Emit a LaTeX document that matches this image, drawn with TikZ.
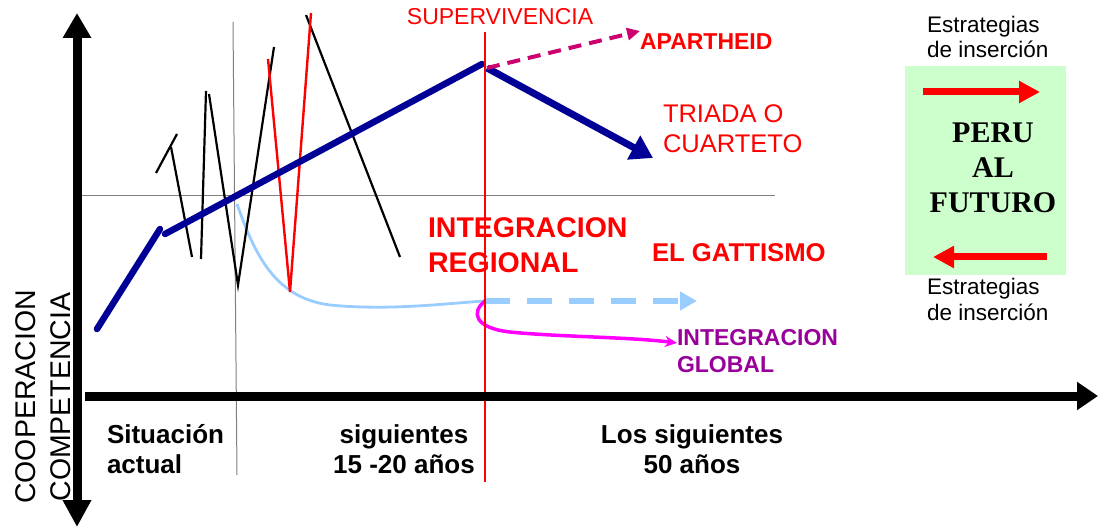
\documentclass[tikz,border=0pt]{standalone}
\usepackage{fontspec}
\setmainfont{Liberation Sans}
\newfontfamily\timesfont{Liberation Serif}
\usetikzlibrary{arrows.meta}
\definecolor{navy}{RGB}{0,0,150}
\definecolor{lblue}{RGB}{153,204,255}
\definecolor{apcol}{RGB}{204,0,110}
\definecolor{purp}{RGB}{153,0,153}
\definecolor{mag}{RGB}{255,0,255}
\definecolor{lgreen}{RGB}{204,255,204}
\definecolor{gline}{RGB}{128,128,128}
\newcommand\fsz[1]{\fontsize{#1}{#1}\selectfont}
\newcommand\bfsz[1]{\fontsize{#1}{#1}\selectfont\bfseries}
\begin{document}
\begin{tikzpicture}[x=1pt,y=-1pt,
  lbl/.style={inner sep=0pt, outer sep=0pt},
  lw/.style={lbl, anchor=base west},
  lc/.style={lbl, anchor=base},
  zig/.style={line width=2.2pt, black},
  zigred/.style={line width=2.4pt, red},
  thin gray/.style={line width=1pt, gline},
  axis/.style={line width=9pt, black}]
\useasboundingbox (0,0) rectangle (1098,529);

% green box
\node[lbl, fill=lgreen, minimum width=161pt, minimum height=209pt, anchor=north west] (box) at (905,66) {};

% coordinates
\coordinate (b1) at (97,329);
\coordinate (b2) at (160,229);
\coordinate (b3) at (165,234);
\coordinate (b4) at (482,64);
\coordinate (b5) at (487,68);
\coordinate (b6) at (653,158);
\coordinate (ap) at (640,31);
\coordinate (gh1) at (76,196);
\coordinate (gh2) at (775,196);
\coordinate (gv1) at (233,22);
\coordinate (gv2) at (237,475);
\coordinate (rv1) at (485,32);
\coordinate (rv2) at (485,482);
\coordinate (lb0) at (237,204);
\coordinate (lb1) at (330,305);
\coordinate (lb2) at (485,301);
\coordinate (lb3) at (697,301);
\coordinate (mg1) at (510,332);
\coordinate (mg2) at (677,343);

% thin reference lines
\draw[thin gray] (gh1) -- (gh2);
\draw[thin gray] (gv1) -- (gv2);

% light blue curve and dashed arrow
\draw[lblue, line width=2.8pt] (lb0) .. controls (255,255) and (275,298) .. (lb1)
   .. controls (390,311) and (450,303) .. (lb2);
\draw[lblue, line width=6.5pt, dash pattern=on 25pt off 17pt,
      -{Triangle[length=17pt,width=18pt]}] (lb2) -- (lb3);

% magenta curve
\draw[mag, line width=3.5pt, -{Stealth[length=12pt,width=11pt]}] (lb2)
   .. controls (471,312) and (474,328) .. (mg1)
   .. controls (560,337) and (630,337) .. (mg2);

% zigzag lines
\coordinate (za1) at (156,173); \coordinate (za2) at (177,134);
\coordinate (zb1) at (171,147); \coordinate (zb2) at (192,257);
\coordinate (zc1) at (201,259); \coordinate (zc2) at (206,91);
\coordinate (zd1) at (209,94);  \coordinate (zd2) at (238,285);
\coordinate (ze2) at (274,47);
\coordinate (zf1) at (306,15);  \coordinate (zf2) at (400,257);
\coordinate (zr1) at (268,59);  \coordinate (zr2) at (290,292); \coordinate (zr3) at (311,13);
\draw[zig] (za1) -- (za2);
\draw[zig] (zb1) -- (zb2);
\draw[zig] (zc1) -- (zc2);
\draw[zig] (zd1) -- (zd2) -- (ze2);
\draw[zig] (zf1) -- (zf2);
\draw[zigred] (zr1) -- (zr2) -- (zr3);

% blue line
\draw[navy, line width=6.5pt, line cap=round] (b1) -- (b2);
\draw[navy, line width=6.5pt, line cap=round] (b3) -- (b4);
\draw[navy, line width=7pt, -{Triangle[length=22pt,width=26pt]}] (b5) -- (b6);

% apartheid dashed arrow
\draw[apcol, line width=4pt, dash pattern=on 13pt off 8pt,
      -{Triangle[length=13pt,width=12pt]}] (b5) -- (ap);

% red vertical line
\draw[red, line width=1.3pt] (rv1) -- (rv2);

% axes
\coordinate (vy1) at (77,13);
\coordinate (vy2) at (77,527);
\coordinate (hx1) at (85,396);
\coordinate (hx2) at (1098,396);
\draw[axis, {Triangle[length=27pt,width=27pt]}-{Triangle[length=25pt,width=27pt]}] (vy2) -- (vy1);
\draw[axis, -{Triangle[length=21pt,width=27pt]}] (hx1) -- (hx2);

% red arrows in box
\coordinate (ra1) at (923,92); \coordinate (ra2) at (1040,92);
\coordinate (rb1) at (1047,257); \coordinate (rb2) at (933,257);
\draw[red, line width=7pt, -{Triangle[length=21pt,width=21pt]}] (ra1) -- (ra2);
\draw[red, line width=7pt, -{Triangle[length=21pt,width=21pt]}] (rb1) -- (rb2);

% texts
\node[lc, font=\fsz{23}, text=red] (sup) at (500,25) {SUPERVIVENCIA};
\node[lw, font=\bfsz{23}, text=red] (apa) at (640,50) {APARTHEID};
\node[lw, font=\fsz{25.5}, text=red] (tri1) at (663,123) {TRIADA O};
\node[lw, font=\fsz{25.5}, text=red] (tri2) at (663,153) {CUARTETO};
\node[lw, font=\bfsz{28.5}, text=red] (ir1) at (428,238) {INTEGRACION};
\node[lw, font=\bfsz{28.5}, text=red] (ir2) at (428,273) {REGIONAL};
\node[lw, font=\bfsz{25.7}, text=red] (gat) at (652,262) {EL GATTISMO};
\node[lw, font=\bfsz{23}, text=purp] (ig1) at (677,345) {INTEGRACION};
\node[lw, font=\bfsz{23}, text=purp] (ig2) at (677,372) {GLOBAL};
\node[lw, font=\fsz{22.5}] (es1) at (927,33) {Estrategias};
\node[lw, font=\fsz{22.5}] (es2) at (927,58) {de inserción};
\node[lw, font=\fsz{22.5}] (es3) at (927,295) {Estrategias};
\node[lw, font=\fsz{22.5}] (es4) at (927,321) {de inserción};
\node[lc, font=\timesfont\fontsize{30}{30}\selectfont\bfseries] (pf1) at (993,143) {PERU};
\node[lc, font=\timesfont\fontsize{30}{30}\selectfont\bfseries] (pf2) at (993,178) {AL};
\node[lc, font=\timesfont\fontsize{30}{30}\selectfont\bfseries] (pf3) at (993,213) {FUTURO};
\node[lw, font=\bfsz{26}] (sa1) at (107,443) {Situación};
\node[lw, font=\bfsz{26}] (sa2) at (107,473) {actual};
\node[lc, font=\bfsz{26}] (sg1) at (404,443) {siguientes};
\node[lc, font=\bfsz{26}] (sg2) at (404,473) {15 -20 años};
\node[lc, font=\bfsz{26}] (ls1) at (692,443) {Los siguientes};
\node[lc, font=\bfsz{26}] (ls2) at (692,473) {50 años};
\node[lc, font=\fsz{28.5}, rotate=90] (coop) at (35,397) {COOPERACION};
\node[lc, font=\fsz{28.5}, rotate=90] (comp) at (70,397) {COMPETENCIA};
\end{tikzpicture}
\end{document}
